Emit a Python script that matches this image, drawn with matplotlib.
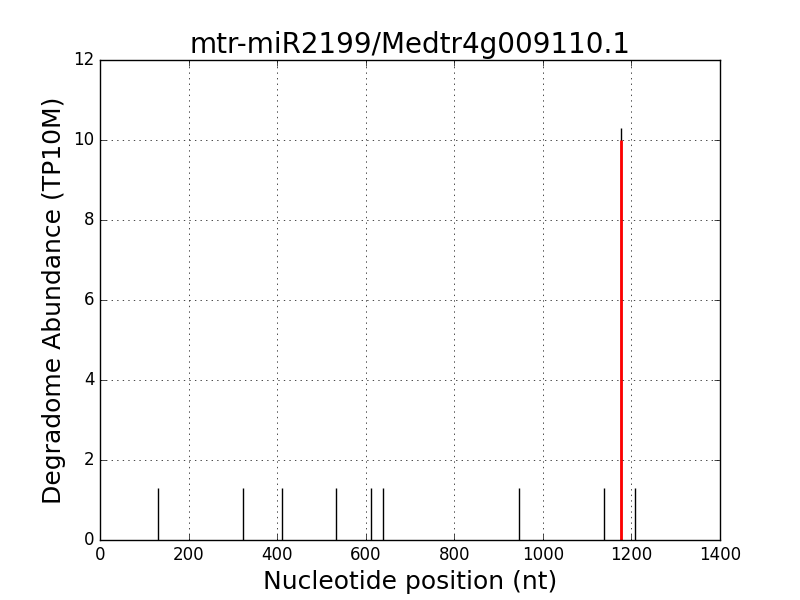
import matplotlib
matplotlib.use("Agg")
import matplotlib.pyplot as plt

plt.style.use("classic")

positions = [132, 322, 410, 534, 611, 638, 947, 1137, 1176, 1209]
abundance = [1.3, 1.3, 1.3, 1.3, 1.3, 1.3, 1.3, 1.3, 10.3, 1.3]
target_pos = [1176]
target_val = [10]

fig = plt.figure(figsize=(8, 6), dpi=100)
ax = fig.add_axes([0.125, 0.1, 0.775, 0.8])
ax.vlines(positions, 0, abundance, colors="black", linewidth=1)
ax.vlines(target_pos, 0, target_val, colors="red", linewidth=2)
ax.set_xlim(0, 1400)
ax.set_ylim(0, 12)
ax.grid(True)
ax.set_title("mtr-miR2199/Medtr4g009110.1", fontsize=20)
ax.set_xlabel("Nucleotide position (nt)", fontsize=18)
ax.set_ylabel("Degradome Abundance (TP10M)", fontsize=18)
fig.savefig("out.png", dpi=100)
